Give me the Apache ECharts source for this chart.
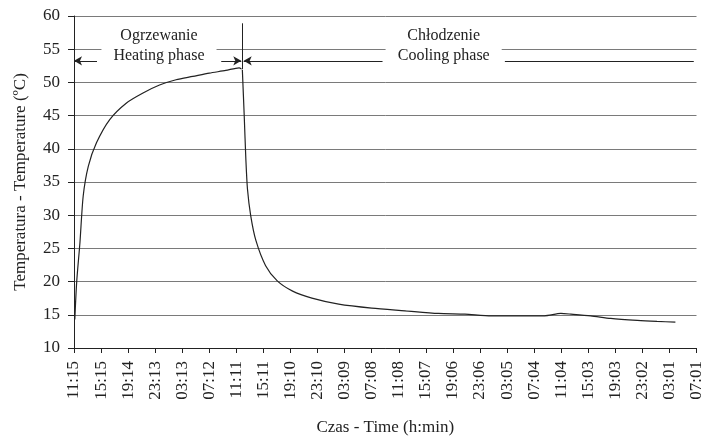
<!DOCTYPE html>
<html>
<head>
<meta charset="utf-8">
<script src="https://cdn.jsdelivr.net/npm/echarts@6/dist/echarts.min.js"></script>
<style>html,body{margin:0;padding:0;background:#fff}#c{width:705px;height:441px}</style>
</head>
<body>
<div id="c"></div>
<script>
// Tick labels (time, h:min) — x positions are tick indices
const xLabels = ['11:15','15:15','19:14','23:13','03:13','07:12','11:11','15:11','19:10','23:10','03:09','07:08','11:08','15:07','19:06','23:06','03:05','07:04','11:04','15:03','19:03','23:02','03:01','07:01'];
const yTicks = [10, 60, 5];

// Heating phase
const heatingX = [0.03, 0.1, 0.22, 0.34, 0.53, 0.83, 1.32, 1.94, 2.55, 3.16, 3.77, 4.39, 5.0, 5.61, 6.1, 6.19];
const heatingY = [14.3, 20.0, 25.9, 32.9, 37.4, 40.9, 44.4, 46.9, 48.4, 49.6, 50.4, 50.9, 51.4, 51.8, 52.2, 52.0];

// Cooling phase
const coolingX = [6.22, 6.29, 6.35, 6.41, 6.53, 6.72, 7.08, 7.51, 8.06, 8.79, 9.78, 11.0, 12.23, 13.46, 14.44, 15.42, 17.38, 17.99, 18.36, 19.09, 19.83, 20.81, 21.54, 22.22];
const coolingY = [51.9, 44.9, 38.4, 33.9, 29.9, 26.2, 22.4, 20.1, 18.6, 17.5, 16.6, 16.0, 15.6, 15.2, 15.1, 14.85, 14.85, 15.2, 15.1, 14.85, 14.45, 14.15, 14.0, 13.9];

// Phase annotations
const phaseDivider = [6.22, 58.9, 52.0];
const arrowLevel = 53.25;
const heatingArrow = [0, 0.85, 5.44, 6.18];
const coolingArrow = [6.27, 11.4, 15.92, 22.9];
const heatingLabel = {x: 3.14, y: 55.5, text: 'Ogrzewanie\nHeating phase'};
const coolingLabel = {x: 13.66, y: 55.5, text: 'Chłodzenie\nCooling phase'};

const FONT = "'Liberation Serif', 'Times New Roman', serif";
const pair = (xs, ys) => xs.map((x, i) => [x, ys[i]]);

const chart = echarts.init(document.getElementById('c'), null, {renderer: 'canvas'});

const arrowStyle = {color: '#222', width: 1, type: 'solid'};
function seg(x1, x2, s1, s2) {
  return [
    {coord: [x1, arrowLevel], symbol: s1, symbolSize: [7, 8]},
    {coord: [x2, arrowLevel], symbol: s2, symbolSize: [7, 8]}
  ];
}
const labelCommon = {
  show: true, position: 'inside', fontFamily: FONT, fontSize: 16, color: '#222',
  backgroundColor: '#fff', padding: [0, 12], lineHeight: 20, align: 'center', verticalAlign: 'middle'
};

chart.setOption({
  animation: false,
  backgroundColor: '#fff',
  grid: {left: 74, right: 5, top: 16, bottom: 92, containLabel: false},
  xAxis: {
    type: 'value', min: 0, max: xLabels.length - 1, interval: 1,
    name: 'Czas - Time (h:min)', nameLocation: 'middle', nameGap: 71,
    nameTextStyle: {fontFamily: FONT, fontSize: 17, color: '#222'},
    axisLine: {show: true, onZero: false, lineStyle: {color: '#222', width: 1}},
    axisTick: {show: true, length: 5, lineStyle: {color: '#222'}},
    axisLabel: {rotate: 90, margin: 13, fontFamily: FONT, fontSize: 17, color: '#222',
      formatter: v => xLabels[Math.round(v)] || ''},
    splitLine: {show: false}
  },
  yAxis: {
    type: 'value', min: yTicks[0], max: yTicks[1], interval: yTicks[2],
    name: 'Temperatura - Temperature (ºC)', nameLocation: 'middle', nameGap: 45,
    nameTextStyle: {fontFamily: FONT, fontSize: 17, color: '#222'},
    axisLine: {show: true, lineStyle: {color: '#222', width: 1}},
    axisTick: {show: true, length: 6, lineStyle: {color: '#222'}},
    axisLabel: {margin: 14, fontFamily: FONT, fontSize: 17, color: '#222'},
    splitLine: {show: true, lineStyle: {color: '#7a7a7a', width: 1}}
  },
  series: [
    {
      type: 'line', name: 'heating', data: pair(heatingX, heatingY),
      showSymbol: false, symbol: 'none', smooth: 0.25,
      lineStyle: {color: '#222', width: 1.2}, z: 3,
      markLine: {
        silent: true, animation: false, label: {show: false},
        lineStyle: arrowStyle,
        data: [
          seg(heatingArrow[0], heatingArrow[1], 'arrow', 'none'),
          seg(heatingArrow[2], heatingArrow[3], 'none', 'arrow'),
          seg(coolingArrow[0], coolingArrow[1], 'arrow', 'none'),
          seg(coolingArrow[2], coolingArrow[3], 'none', 'none'),
          [{coord: [phaseDivider[0], phaseDivider[1]], symbol: 'none'},
           {coord: [phaseDivider[0], phaseDivider[2]], symbol: 'none'}]
        ]
      },
      markPoint: {
        silent: true, animation: false, symbol: 'rect', symbolSize: 0,
        data: [
          {coord: [heatingLabel.x, heatingLabel.y], label: Object.assign({}, labelCommon, {formatter: heatingLabel.text})},
          {coord: [coolingLabel.x, coolingLabel.y], label: Object.assign({}, labelCommon, {formatter: coolingLabel.text})}
        ]
      }
    },
    {
      type: 'line', name: 'cooling', data: pair(coolingX, coolingY),
      showSymbol: false, symbol: 'none', smooth: 0.25,
      lineStyle: {color: '#222', width: 1.2}, z: 3
    }
  ]
});
</script>
</body>
</html>
